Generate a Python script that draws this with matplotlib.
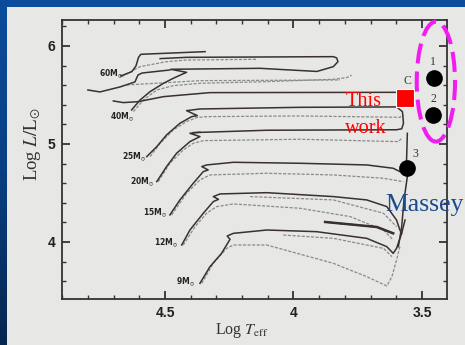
import numpy as np
import matplotlib
matplotlib.use('Agg')
import matplotlib.pyplot as plt
from matplotlib.patches import Ellipse, Rectangle
from matplotlib.ticker import MultipleLocator, FixedLocator
from matplotlib.colors import LinearSegmentedColormap

plt.rcParams['mathtext.fontset'] = 'stix'

# ---------------- data (log Teff, log L/Lsun) ----------------
m60_solid_T = [4.672, 4.629, 4.613, 4.603, 4.594, 4.344]
m60_solid_L = [5.694, 5.738, 5.796, 5.884, 5.915, 5.942]
m60_grey_T = [4.668, 4.597, 4.494, 4.416, 4.143]
m60_grey_L = [5.687, 5.789, 5.840, 5.857, 5.864]
m60_wr_T = [4.800, 4.753, 4.675, 4.617, 4.605, 4.589, 4.481]
m60_wr_L = [5.551, 5.531, 5.582, 5.633, 5.704, 5.724, 5.755]
m60_grey2_T = [4.649, 4.364, 3.819]
m60_grey2_L = [5.602, 5.646, 5.653]

m40_solid_T = [4.630, 4.597, 4.558, 4.506, 4.468, 4.431, 4.416, 4.478, 4.130,
               3.909, 3.845, 3.827, 3.832, 3.845, 4.416, 4.519]
m40_solid_L = [5.347, 5.449, 5.534, 5.619, 5.670, 5.714, 5.731, 5.762, 5.772,
               5.740, 5.789, 5.840, 5.878, 5.891, 5.884, 5.871]
m40_grey_T = [4.623, 4.584, 4.532, 4.468, 4.364, 4.104, 3.845, 3.793, 3.774]
m40_grey_L = [5.330, 5.449, 5.551, 5.595, 5.619, 5.636, 5.660, 5.677, 5.701]
m40_branch_T = [4.701, 4.662, 4.604, 4.506, 4.325, 3.599, 3.590]
m40_branch_L = [5.439, 5.422, 5.432, 5.483, 5.524, 5.527, 5.500]

m25_solid_T = [4.571, 4.532, 4.494, 4.442, 4.396, 4.374, 4.416, 4.364, 3.975,
               3.599, 3.576, 3.572, 3.579, 3.599, 4.104, 4.390]
m25_solid_L = [4.871, 4.973, 5.092, 5.211, 5.279, 5.289, 5.340, 5.357, 5.374,
               5.378, 5.330, 5.211, 5.155, 5.145, 5.140, 5.116]
m25_grey_T = [4.558, 4.519, 4.468, 4.416, 4.377, 4.338, 3.975, 3.586, 3.573]
m25_grey_L = [4.871, 5.007, 5.143, 5.228, 5.269, 5.279, 5.286, 5.272, 5.296]

m20_solid_T = [4.532, 4.494, 4.455, 4.403, 4.364, 4.403, 4.364]
m20_solid_L = [4.616, 4.769, 4.905, 5.024, 5.075, 5.109, 5.120]
m20_grey_T = [4.526, 4.481, 4.429, 4.390, 4.351, 3.975, 3.592, 3.579]
m20_grey_L = [4.616, 4.803, 4.939, 5.007, 5.034, 5.048, 5.024, 5.058]

m15_solid_T = [4.481, 4.442, 4.390, 4.351, 4.332, 4.357, 4.338, 4.234, 3.975,
               3.715, 3.612, 3.586]
m15_solid_L = [4.276, 4.429, 4.599, 4.718, 4.735, 4.769, 4.786, 4.813, 4.803,
               4.786, 4.752, 4.718]
m15_grey_T = [4.474, 4.416, 4.364, 4.325, 4.104, 3.845, 3.650, 3.573]
m15_grey_L = [4.276, 4.497, 4.633, 4.684, 4.701, 4.684, 4.650, 4.616]
m15_loop_T = [4.169, 3.845, 3.650, 3.599]
m15_loop_L = [4.463, 4.429, 4.293, 4.156]

m12_solid_T = [4.435, 4.403, 4.351, 4.312, 4.292, 4.312, 4.286, 4.104, 3.845,
               3.715, 3.637, 3.599, 3.586, 3.579]
m12_solid_L = [3.969, 4.122, 4.293, 4.412, 4.435, 4.463, 4.490, 4.503, 4.463,
               4.429, 4.361, 4.224, 4.122, 4.088]
m12_loop_T = [3.877, 3.676, 3.612]
m12_loop_L = [4.204, 4.153, 4.088]
m12_grey_T = [4.429, 4.383, 4.338, 4.299, 4.234, 3.975, 3.780, 3.650, 3.612]
m12_grey_L = [3.969, 4.156, 4.293, 4.361, 4.388, 4.344, 4.259, 4.122, 4.020]

m9_solid_T = [4.364, 4.325, 4.280, 4.247, 4.258, 4.234, 4.104, 3.910, 3.715,
              3.637, 3.612, 3.599, 3.579, 3.566]
m9_solid_L = [3.578, 3.748, 3.884, 4.027, 4.061, 4.088, 4.122, 4.105, 4.037,
              3.952, 3.884, 3.935, 4.088, 4.224]
m9_grey_T = [4.357, 4.312, 4.260, 4.234, 4.104, 3.845, 3.715, 3.637, 3.617,
             3.599, 3.586]
m9_grey_L = [3.578, 3.782, 3.935, 3.969, 3.969, 3.782, 3.646, 3.551, 3.646,
             3.816, 3.952]
m9_loop_T = [4.040, 3.845, 3.650, 3.617]
m9_loop_L = [4.071, 4.037, 3.935, 3.850]

rsg_T = [3.557, 3.560, 3.557, 3.570, 3.579, 3.592]
rsg_L = [5.109, 4.837, 4.667, 4.429, 4.156, 3.952]

mass_labels = ['60', '40', '25', '20', '15', '12', '9']
label_T = [4.708, 4.665, 4.622, 4.588, 4.539, 4.497, 4.420]
label_L = [5.721, 5.276, 4.867, 4.612, 4.303, 3.993, 3.592]

this_work_T = [3.5655]
this_work_L = [5.466]
massey_T = [3.452, 3.456, 3.560]
massey_L = [5.670, 5.296, 4.752]
massey_ids = ['1', '2', '3']

# ---------------- figure ----------------
W, H = 465, 345
fig = plt.figure(figsize=(W / 100, H / 100), dpi=100)
fig.patch.set_facecolor('#0b4c9c')

# left blue strip gradient
gax = fig.add_axes([0, 0, 7 / W, 1])
grad = np.linspace(0, 1, 256).reshape(-1, 1)
cm = LinearSegmentedColormap.from_list('b', ['#0b4c9c', '#083f82', '#06264f'])
gax.imshow(grad, aspect='auto', cmap=cm, extent=[0, 1, 0, 1], origin='upper')
gax.axis('off')

# light grey panel
fig.add_artist(Rectangle((7 / W, 0), 1, 1 - 7 / H, transform=fig.transFigure,
                         facecolor='#e7e7e6', edgecolor='none', zorder=0.5))

ax = fig.add_axes([62 / W, 1 - 299 / H, (447 - 62) / W, (299 - 20) / H])
ax.set_facecolor('#e7e7e6')
ax.set_zorder(2)
ax.set_xlim(4.9008, 3.4027)
ax.set_ylim(3.418, 6.265)

solid_c = '#3a3030'
grey_c = '#8a8a8a'
solid = [(m60_solid_T, m60_solid_L), (m60_wr_T, m60_wr_L),
         (m40_solid_T, m40_solid_L), (m40_branch_T, m40_branch_L),
         (m25_solid_T, m25_solid_L), (m20_solid_T, m20_solid_L),
         (m15_solid_T, m15_solid_L), (m12_solid_T, m12_solid_L),
         (m12_loop_T, m12_loop_L), (m9_solid_T, m9_solid_L), (rsg_T, rsg_L)]
grey = [(m60_grey_T, m60_grey_L), (m60_grey2_T, m60_grey2_L),
        (m40_grey_T, m40_grey_L), (m25_grey_T, m25_grey_L),
        (m20_grey_T, m20_grey_L), (m15_grey_T, m15_grey_L),
        (m15_loop_T, m15_loop_L), (m12_grey_T, m12_grey_L),
        (m9_grey_T, m9_grey_L), (m9_loop_T, m9_loop_L)]
for t, l in grey:
    ax.plot(t, l, color=grey_c, lw=0.9, ls=(0, (2.5, 1.2)), zorder=3)
for t, l in solid:
    ax.plot(t, l, color=solid_c, lw=1.1, zorder=4)
ax.plot(m12_loop_T, m12_loop_L, color=solid_c, lw=1.8, zorder=4)

for lab, t, l in zip(mass_labels, label_T, label_L):
    ax.text(t, l, lab + r'M$_{\odot}$', fontsize=5.5, color='#222',
            family='DejaVu Sans', fontweight='bold',
            ha='center', va='center', zorder=5)

# markers
ax.plot(this_work_T, this_work_L, 's', ms=13.2, color='#ff0000', mec='white',
        mew=0.8, zorder=6, clip_on=False)
ax.plot(massey_T, massey_L, 'o', ms=11, color='black', zorder=6, clip_on=False)
ax.text(3.557, 5.643, 'C', fontsize=8.5, color='#444', family='Liberation Serif',
        ha='center', va='center', zorder=6)
id_pos = [(3.456, 5.833), (3.456, 5.459), (3.527, 4.895)]
for s, (t, l) in zip(massey_ids, id_pos):
    ax.text(t, l, s, fontsize=8.5, color='#333', family='Liberation Serif',
            ha='center', va='center', zorder=6)

ax.text(3.728, 5.432, 'This', fontsize=14.6, color='#ff0000',
        family='Liberation Serif', ha='center', va='center', zorder=7)
ax.text(3.718, 5.160, 'work', fontsize=14.6, color='#ff0000',
        family='Liberation Serif', ha='center', va='center', zorder=7)
ax.text(3.644, 4.378, 'Massey', fontsize=18.5, color='#1c4b8e',
        family='Liberation Serif', ha='left', va='center', zorder=7,
        clip_on=False)

ell = Ellipse((3.446, 5.636), 0.149, 1.224, fill=False, edgecolor='#f01cf0',
              lw=2.9, ls=(0, (5, 2)), zorder=8, clip_on=False)
ax.add_patch(ell)

# axes styling
ax.xaxis.set_major_locator(FixedLocator([4.5, 4.0, 3.5]))
ax.xaxis.set_minor_locator(MultipleLocator(0.1))
ax.yaxis.set_major_locator(FixedLocator([4, 5, 6]))
ax.yaxis.set_minor_locator(MultipleLocator(0.2))
ax.set_xticklabels(['4.5', '4', '3.5'])
ax.set_yticklabels(['4', '5', '6'])
for sp in ax.spines.values():
    sp.set_color('#333333')
    sp.set_linewidth(1.3)
ax.tick_params(which='both', direction='in', top=True, right=True,
               color='#333333')
ax.tick_params(which='major', length=5.5, width=1.3, pad=5, labelsize=10,
               labelcolor='#222')
ax.tick_params(which='minor', length=3, width=1.0)
for lbl in ax.get_xticklabels() + ax.get_yticklabels():
    lbl.set_fontweight('bold')
    lbl.set_family(['Liberation Sans Narrow', 'Liberation Sans'])

fig.text(242 / W, 1 - 330 / H, r'Log $T_{\rm eff}$', fontsize=11.5,
         family='Liberation Serif', ha='center', va='center', color='#333')
fig.text(33 / W, 1 - 144 / H, r'Log $L/{\rm L}_{\odot}$', fontsize=13.5,
         family='Liberation Serif', ha='center', va='center', color='#333',
         rotation=90)

fig.savefig('out.png', dpi=100, facecolor=fig.get_facecolor())
